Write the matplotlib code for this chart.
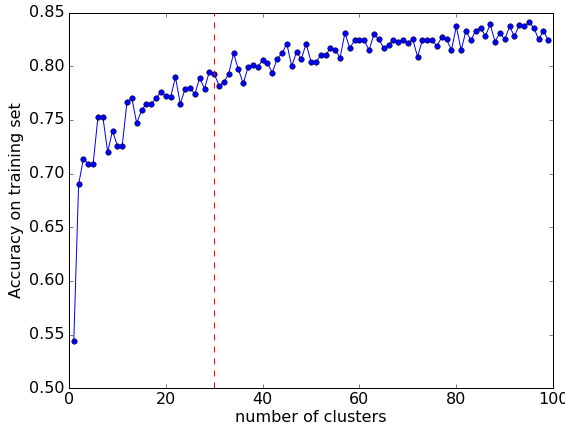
import matplotlib
matplotlib.use("Agg")
import matplotlib.pyplot as plt

plt.style.use("classic")
plt.rcParams["font.size"] = 16

# accuracy on training set for 1..99 clusters
n_clusters = list(range(1, 100))
accuracy = [
    0.544, 0.690, 0.714, 0.709, 0.709, 0.753, 0.753, 0.720, 0.740, 0.726,
    0.726, 0.767, 0.770, 0.747, 0.759, 0.765, 0.765, 0.770, 0.776, 0.772,
    0.771, 0.790, 0.765, 0.779, 0.780, 0.774, 0.789, 0.779, 0.795, 0.793,
    0.782, 0.785, 0.793, 0.812, 0.797, 0.784, 0.799, 0.801, 0.799, 0.806,
    0.803, 0.794, 0.807, 0.812, 0.821, 0.800, 0.813, 0.807, 0.821, 0.804,
    0.804, 0.810, 0.810, 0.817, 0.815, 0.808, 0.831, 0.817, 0.824, 0.824,
    0.824, 0.815, 0.830, 0.825, 0.817, 0.820, 0.824, 0.823, 0.824, 0.822,
    0.825, 0.809, 0.824, 0.824, 0.824, 0.819, 0.827, 0.825, 0.815, 0.837,
    0.815, 0.833, 0.824, 0.833, 0.836, 0.828, 0.839, 0.823, 0.831, 0.825,
    0.837, 0.828, 0.838, 0.837, 0.841, 0.836, 0.825, 0.833, 0.824,
]
chosen_k = 30

fig = plt.figure(figsize=(565 / 72, 432 / 72), dpi=72, facecolor="white")
ax = fig.add_axes([0.122, 0.101, 0.857, 0.870])

ax.plot(n_clusters, accuracy, "bo-", markersize=5.5)
ax.axvline(chosen_k, color="r", linestyle="--")

ax.set_xlim(0, 100)
ax.set_ylim(0.5, 0.85)
ax.set_xlabel("number of clusters", labelpad=3)
ax.set_ylabel("Accuracy on training set")

fig.savefig("out.png", dpi=72, facecolor="white")
